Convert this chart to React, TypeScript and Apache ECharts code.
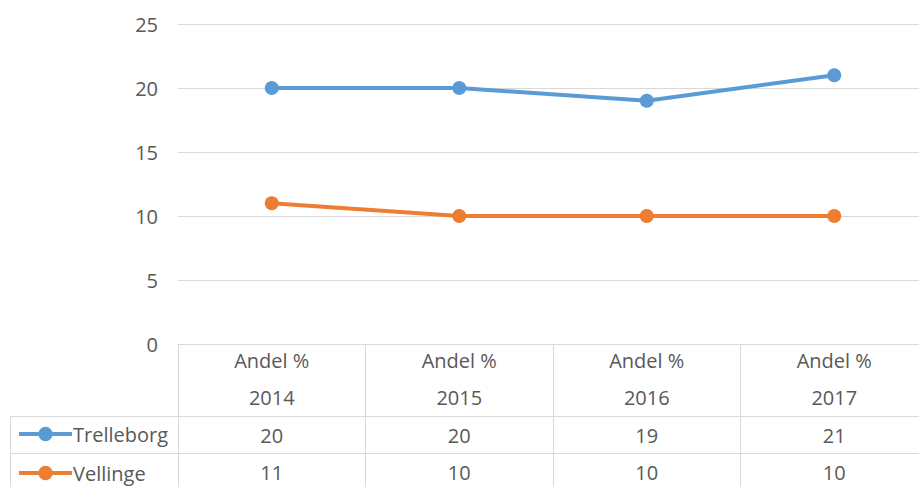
import React, { useEffect, useRef } from "react";
import * as echarts from "echarts";

const categories = ["Andel %\n2014", "Andel %\n2015", "Andel %\n2016", "Andel %\n2017"];
const seriesNames = ["Trelleborg", "Vellinge"];
const trelleborg = [20, 20, 19, 21];
const vellinge = [11, 10, 10, 10];
const yTicks = { min: 0, max: 25, interval: 5 };

const TEXT = "#595959";
const GRID = "#d9d9d9";
const BLUE = "#5B9BD5";
const ORANGE = "#ED7D31";
const FONT = "'Open Sans', 'Noto Sans', sans-serif";
const FS = 20;

export default function App() {
  const ref = useRef<HTMLDivElement>(null);
  useEffect(() => {
    if (!ref.current) return;
    const chart = echarts.init(ref.current, null, { renderer: "svg" });
    const valueAxis = (values: number[], margin: number) => ({
      type: "category",
      data: categories,
      position: "bottom",
      gridIndex: 0,
      axisLine: { show: false },
      axisTick: { show: false },
      splitLine: { show: false },
      axisLabel: {
        interval: 0,
        margin,
        verticalAlign: "middle",
        color: TEXT,
        fontSize: FS,
        fontFamily: FONT,
        formatter: (_v: string, i: number) => String(values[i]),
      },
    });
    chart.setOption({
      animation: false,
      textStyle: { fontFamily: FONT },
      grid: { left: 178, top: 24, width: 750, height: 320, containLabel: false },
      legend: {
        orient: "vertical",
        left: 17,
        top: 424,
        padding: 0,
        itemWidth: 53,
        itemHeight: 18,
        itemGap: 19,
        lineStyle: { width: 4 },
        textStyle: { color: TEXT, fontSize: FS, fontFamily: FONT, padding: [0, 0, 0, -4] },
        data: seriesNames,
      },
      xAxis: [
        {
          type: "category",
          data: categories,
          axisLine: { show: true, lineStyle: { color: GRID, width: 1 } },
          axisTick: { show: true, interval: 0, length: 143, lineStyle: { color: GRID, width: 1 } },
          splitLine: { show: false },
          axisLabel: {
            interval: 0,
            margin: 35,
            verticalAlign: "middle",
            color: TEXT,
            fontSize: FS,
            lineHeight: 37,
            fontFamily: FONT,
          },
        },
        valueAxis(trelleborg, 91),
        valueAxis(vellinge, 128),
      ],
      yAxis: {
        type: "value",
        min: yTicks.min,
        max: yTicks.max,
        interval: yTicks.interval,
        axisLine: { show: false },
        axisTick: { show: false },
        splitLine: { lineStyle: { color: GRID, width: 1 } },
        axisLabel: { color: TEXT, fontSize: FS, margin: 20, fontFamily: FONT },
      },
      graphic: [
        { type: "line", shape: { x1: 10, y1: 416.5, x2: 930, y2: 416.5 }, style: { stroke: GRID, lineWidth: 1 } },
        { type: "line", shape: { x1: 10, y1: 453.5, x2: 930, y2: 453.5 }, style: { stroke: GRID, lineWidth: 1 } },
        { type: "line", shape: { x1: 10.5, y1: 416, x2: 10.5, y2: 487 }, style: { stroke: GRID, lineWidth: 1 } },
      ],
      series: [
        {
          name: seriesNames[0],
          type: "line",
          data: trelleborg,
          symbol: "circle",
          symbolSize: 14,
          color: BLUE,
          lineStyle: { width: 4, color: BLUE },
          itemStyle: { color: BLUE },
        },
        {
          name: seriesNames[1],
          type: "line",
          data: vellinge,
          symbol: "circle",
          symbolSize: 14,
          color: ORANGE,
          lineStyle: { width: 4, color: ORANGE },
          itemStyle: { color: ORANGE },
        },
      ],
    });
    return () => chart.dispose();
  }, []);
  return (
    <div style={{ position: "absolute", left: 0, top: 0, width: 919, height: 487, overflow: "hidden", background: "#fff" }}>
      <div ref={ref} style={{ position: "absolute", left: 0, top: 0, width: 930, height: 487 }} />
    </div>
  );
}
